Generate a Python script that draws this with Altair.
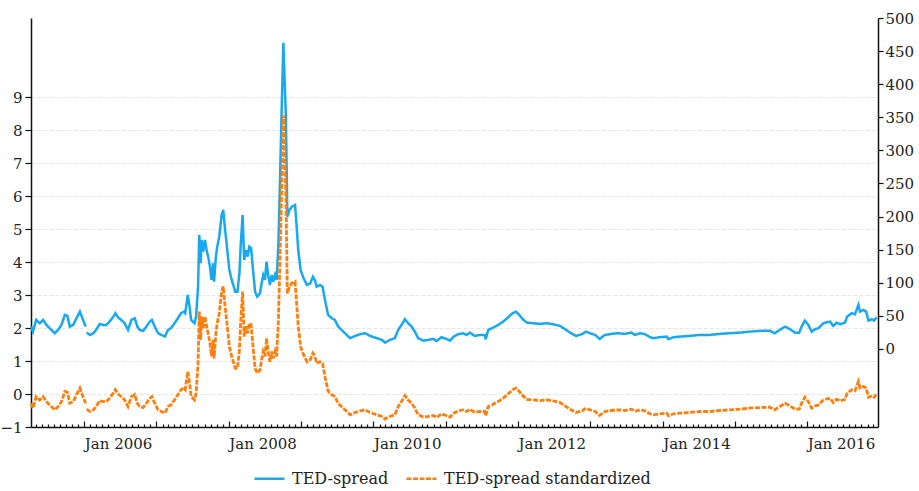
import altair as alt
import pandas as pd

# ---- data ----
dates = [
    "2005-04-08", "2005-04-17", "2005-05-03", "2005-05-21", "2005-06-07", "2005-06-24", "2005-07-10",
    "2005-08-05", "2005-08-22", "2005-09-08", "2005-09-25", "2005-10-08", "2005-10-20", "2005-11-06",
    "2005-11-23", "2005-12-10", "2005-12-26", "2006-01-08", "2006-01-10", "2006-01-13", "2006-01-30",
    "2006-02-16", "2006-03-02", "2006-03-20", "2006-04-05", "2006-04-22", "2006-05-09", "2006-05-26",
    "2006-06-07", "2006-06-20", "2006-07-07", "2006-07-24", "2006-08-10", "2006-08-27", "2006-09-13",
    "2006-09-26", "2006-10-08", "2006-10-25", "2006-11-11", "2006-11-28", "2006-12-09", "2006-12-23",
    "2007-01-09", "2007-01-26", "2007-02-13", "2007-02-28", "2007-03-15", "2007-04-02", "2007-04-19",
    "2007-05-05", "2007-05-19", "2007-05-26", "2007-06-08", "2007-06-17", "2007-06-25", "2007-07-12",
    "2007-07-20", "2007-07-30", "2007-08-05", "2007-08-12", "2007-08-17", "2007-08-25", "2007-09-03",
    "2007-09-11", "2007-09-19", "2007-09-28", "2007-10-06", "2007-10-14", "2007-10-19", "2007-10-28",
    "2007-11-04", "2007-11-14", "2007-11-26", "2007-12-04", "2007-12-12", "2007-12-21", "2008-01-04",
    "2008-01-16", "2008-02-03", "2008-02-14", "2008-02-24", "2008-03-01", "2008-03-11", "2008-03-19",
    "2008-03-28", "2008-04-06", "2008-04-14", "2008-04-23", "2008-05-01", "2008-05-13", "2008-05-24",
    "2008-06-07", "2008-06-15", "2008-06-23", "2008-07-02", "2008-07-10", "2008-07-18", "2008-07-27",
    "2008-08-05", "2008-08-13", "2008-08-22", "2008-08-30", "2008-09-08", "2008-09-16", "2008-09-24",
    "2008-10-03", "2008-10-15", "2008-10-20", "2008-10-23", "2008-11-03", "2008-11-15", "2008-12-01",
    "2008-12-09", "2008-12-17", "2008-12-29", "2009-01-13", "2009-01-30", "2009-02-16", "2009-03-01",
    "2009-03-11", "2009-03-20", "2009-04-06", "2009-04-19", "2009-05-01", "2009-05-17", "2009-06-04",
    "2009-06-20", "2009-07-07", "2009-07-15", "2009-08-10", "2009-09-05", "2009-09-30", "2009-10-25",
    "2009-11-20", "2009-12-15", "2010-01-18", "2010-02-13", "2010-03-01", "2010-03-25", "2010-04-19",
    "2010-05-06", "2010-05-23", "2010-06-09", "2010-06-25", "2010-07-13", "2010-07-29", "2010-08-15",
    "2010-09-10", "2010-10-05", "2010-10-30", "2010-11-17", "2010-12-11", "2011-01-07", "2011-01-24",
    "2011-02-10", "2011-03-05", "2011-03-30", "2011-04-17", "2011-05-03", "2011-05-28", "2011-06-22",
    "2011-07-17", "2011-07-22", "2011-08-04", "2011-08-29", "2011-09-23", "2011-10-18", "2011-11-13",
    "2011-12-05", "2011-12-22", "2012-01-08", "2012-01-25", "2012-02-15", "2012-03-18", "2012-04-21",
    "2012-05-25", "2012-06-27", "2012-08-01", "2012-08-26", "2012-09-20", "2012-10-20", "2012-11-19",
    "2012-12-10", "2012-12-30", "2013-01-25", "2013-02-17", "2013-03-15", "2013-04-18", "2013-05-21",
    "2013-06-24", "2013-07-28", "2013-08-14", "2013-09-09", "2013-10-04", "2013-10-29", "2013-11-15",
    "2013-12-18", "2014-01-22", "2014-01-30", "2014-02-25", "2014-03-29", "2014-05-18", "2014-07-08",
    "2014-08-28", "2014-10-17", "2014-12-07", "2015-01-27", "2015-03-17", "2015-05-07", "2015-06-26",
    "2015-07-21", "2015-08-16", "2015-09-11", "2015-10-06", "2015-11-01", "2015-11-22", "2015-12-04",
    "2015-12-20", "2016-01-07", "2016-01-24", "2016-02-11", "2016-02-27", "2016-03-23", "2016-04-09",
    "2016-04-26", "2016-05-12", "2016-05-29", "2016-06-15", "2016-07-10", "2016-07-21", "2016-08-13",
    "2016-08-30", "2016-09-16", "2016-09-24", "2016-10-11", "2016-10-25", "2016-11-06", "2016-11-23",
    "2016-12-04", "2016-12-17",
]

# TED-spread, basis points (right axis)
ted_spread = [
    33.7, 26.1, 43.8, 38.8, 43.8, 36.3, 31.3,
    23.7, 28.7, 36.3, 51.4, 49.8, 33.7, 36.3,
    46.4, 56.3, 43.8, 33.7, None, 24.6, 21.1,
    23.7, 28.7, 37.8, 36.3, 36.3, 41.2, 47.9,
    53.9, 47.9, 43.8, 38.8, 28.7, 43.8, 46.4,
    33.7, 28.7, 27.2, 33.7, 41.2, 43.8, 33.7,
    23.7, 21.1, 18.6, 28.7, 31.3, 38.8, 46.4,
    53.9, 56.3, 53.9, 81.6, 63.9, 43.8, 38.8,
    48.8, 94.1, 172.2, 129.5, 164.7, 147.0, 164.7,
    149.5, 139.4, 124.3, 104.2, 129.5, 101.7, 139.4,
    154.5, 169.6, 202.4, 210.0, 184.9, 159.7, 119.3,
    104.2, 86.5, 86.5, 114.4, 154.5, 202.4, 134.4,
    149.5, 139.4, 154.5, 152.0, 124.3, 86.5, 78.9,
    84.0, 99.1, 111.8, 104.2, 131.9, 111.8, 96.7,
    111.8, 101.7, 111.8, 104.2, 159.7, 255.3, 356.5,
    462.7, 356.5, 265.4, 199.8, 210.0, 215.0, 217.5,
    184.9, 149.5, 119.3, 106.8, 96.7, 99.1, 109.1,
    104.2, 94.1, 96.7, 94.1, 74.0, 51.4, 46.4,
    43.8, 33.7, 31.3, 23.7, 16.2, 19.6, 22.2,
    23.7, 19.6, 16.2, 13.6, 9.5, 13.6, 16.2,
    28.7, 36.3, 44.9, 38.8, 33.7, 26.1, 16.2,
    12.5, 13.6, 15.1, 12.1, 17.7, 14.7, 12.5,
    18.6, 22.2, 23.7, 21.1, 24.6, 19.6, 21.1,
    21.1, 14.7, 28.7, 32.2, 36.3, 41.2, 47.9,
    53.9, 56.3, 51.4, 44.9, 39.7, 38.8, 37.8,
    38.8, 37.3, 34.7, 29.8, 24.6, 19.6, 22.2,
    26.1, 23.7, 21.1, 15.1, 21.1, 22.7, 23.7,
    22.7, 24.6, 21.1, 23.7, 22.2, 17.7, 16.2,
    17.7, 18.6, 14.7, 17.7, 18.6, 19.6, 21.1,
    21.1, 22.7, 23.7, 24.6, 26.1, 27.2, 27.6,
    23.7, 28.7, 33.7, 29.8, 24.6, 24.6, 33.7,
    42.7, 36.3, 26.1, 29.8, 31.3, 38.8, 40.3,
    41.2, 34.7, 39.7, 37.3, 39.7, 48.8, 53.9,
    52.4, 66.5, 56.3, 58.9, 56.3, 42.7, 44.9,
    42.7, 47.9,
]

# TED-spread standardized (left axis)
ted_standardized = [
    -0.28, -0.43, -0.08, -0.18, -0.08, -0.23, -0.33,
    -0.48, -0.38, -0.23, 0.08, 0.05, -0.28, -0.23,
    -0.02, 0.18, -0.08, -0.28, None, -0.46, -0.53,
    -0.48, -0.38, -0.20, -0.23, -0.23, -0.13, 0.01,
    0.13, 0.01, -0.08, -0.18, -0.38, -0.08, -0.02,
    -0.28, -0.38, -0.41, -0.28, -0.13, -0.08, -0.28,
    -0.48, -0.53, -0.58, -0.38, -0.33, -0.18, -0.02,
    0.13, 0.18, 0.13, 0.68, 0.33, -0.08, -0.18,
    0.02, 0.93, 2.50, 1.64, 2.35, 1.99, 2.35,
    2.05, 1.84, 1.54, 1.14, 1.64, 1.08, 1.84,
    2.15, 2.45, 3.11, 3.26, 2.75, 2.25, 1.44,
    1.14, 0.78, 0.78, 1.34, 2.15, 3.11, 1.74,
    2.05, 1.84, 2.15, 2.10, 1.54, 0.78, 0.63,
    0.73, 1.04, 1.29, 1.14, 1.69, 1.29, 0.98,
    1.29, 1.08, 1.29, 1.14, 2.25, 4.17, 6.20,
    8.45, 6.20, 4.37, 3.05, 3.26, 3.36, 3.41,
    2.75, 2.05, 1.44, 1.19, 0.98, 1.04, 1.24,
    1.14, 0.93, 0.98, 0.93, 0.53, 0.08, -0.02,
    -0.08, -0.28, -0.33, -0.48, -0.63, -0.56, -0.51,
    -0.48, -0.56, -0.63, -0.68, -0.76, -0.68, -0.63,
    -0.38, -0.23, -0.05, -0.18, -0.28, -0.43, -0.63,
    -0.70, -0.68, -0.65, -0.71, -0.60, -0.66, -0.70,
    -0.58, -0.51, -0.48, -0.53, -0.46, -0.56, -0.53,
    -0.53, -0.66, -0.38, -0.31, -0.23, -0.13, 0.01,
    0.13, 0.18, 0.08, -0.05, -0.16, -0.18, -0.20,
    -0.18, -0.21, -0.26, -0.36, -0.46, -0.56, -0.51,
    -0.43, -0.48, -0.53, -0.65, -0.53, -0.50, -0.48,
    -0.50, -0.46, -0.53, -0.48, -0.51, -0.60, -0.63,
    -0.60, -0.58, -0.66, -0.60, -0.58, -0.56, -0.53,
    -0.53, -0.50, -0.48, -0.46, -0.43, -0.41, -0.40,
    -0.48, -0.38, -0.28, -0.36, -0.46, -0.46, -0.28,
    -0.10, -0.23, -0.43, -0.36, -0.33, -0.18, -0.15,
    -0.13, -0.26, -0.16, -0.21, -0.16, 0.02, 0.13,
    0.10, 0.38, 0.18, 0.23, 0.18, -0.10, -0.05,
    -0.10, 0.01,
]

series_names = ["TED-spread", "TED-spread standardized"]
series_colors = ["#18a8f2", "#ff7f0e"]
left_ticks = [-1, 0, 1, 2, 3, 4, 5, 6, 7, 8, 9]
right_ticks = [0, 50, 100, 150, 200, 250, 300, 350, 400, 450, 500]

dt = pd.to_datetime(dates)
df = pd.concat([
    pd.DataFrame({"date": dt, "value": ted_spread, "series": series_names[0]}),
    pd.DataFrame({"date": dt, "value": ted_standardized, "series": series_names[1]}),
], ignore_index=True)

FONT = "DejaVu Serif"
TXT = "#222222"

month_ticks = [alt.DateTime(year=y, month=m, date=1)
               for y in range(2005, 2017) for m in range(1, 13) if (y, m) >= (2005, 5)]

x_enc = alt.X(
    "date:T", title=None,
    scale=alt.Scale(domain=[alt.DateTime(year=2005, month=4, date=7),
                            alt.DateTime(year=2016, month=12, date=24)]),
    axis=alt.Axis(
        values=month_ticks,
        labelExpr="month(datum.value)==0 && year(datum.value)%2==0 ? timeFormat(datum.value, '%b %Y') : ''",
        labelAlign="left", labelOverlap=False, labelFlush=False,
        tickSize=alt.ExprRef(expr="month(datum.value)==0 ? -6 : -3"),
        labelPadding=15, grid=False,
    ),
)

color_enc = alt.Color(
    "series:N", title=None,
    scale=alt.Scale(domain=series_names, range=series_colors),
    legend=alt.Legend(orient="none", legendX=222, legendY=444, direction="horizontal",
                      symbolType="stroke", symbolSize=900, symbolStrokeWidth=2.5,
                      labelFont=FONT, labelFontSize=16, labelColor=TXT, labelLimit=0,
                      columnPadding=12, labelOffset=6),
)
dash_enc = alt.StrokeDash(
    "series:N", title=None,
    scale=alt.Scale(domain=series_names, range=[[1, 0], [5, 1.5]]),
)

base = alt.Chart(df)

blue = base.transform_filter(alt.datum.series == series_names[0]).mark_line(strokeWidth=2.5).encode(
    x=x_enc,
    y=alt.Y("value:Q", title=None,
            scale=alt.Scale(domain=[-118, 500], nice=False, zero=False),
            axis=alt.Axis(orient="right", values=right_ticks, grid=False, tickSize=5, labelPadding=2)),
    color=color_enc, strokeDash=dash_enc,
)

orange = base.transform_filter(alt.datum.series == series_names[1]).mark_line(strokeWidth=2.8).encode(
    x=x_enc,
    y=alt.Y("value:Q", title=None,
            scale=alt.Scale(domain=[-1, 11.4], nice=False, zero=False),
            axis=alt.Axis(orient="left", values=left_ticks, grid=True, gridDash=[4, 2],
                          gridColor="#e6e6e6", tickSize=6, labelPadding=3)),
    color=color_enc, strokeDash=dash_enc,
)

chart = alt.layer(blue, orange).resolve_scale(y="independent").properties(
    width=847, height=409,
    autosize=alt.AutoSizeParams(type="none"),
    padding={"left": 31, "top": 18, "right": 41, "bottom": 64},
    background="white",
).configure_view(stroke=None).configure_axis(
    labelFont=FONT, labelFontSize=15, labelColor=TXT,
    domainColor="#111111", tickColor="#111111", domainWidth=1.5, tickWidth=1.2,
)

chart.save("out.html", embed_options={"renderer": "svg", "actions": False})
